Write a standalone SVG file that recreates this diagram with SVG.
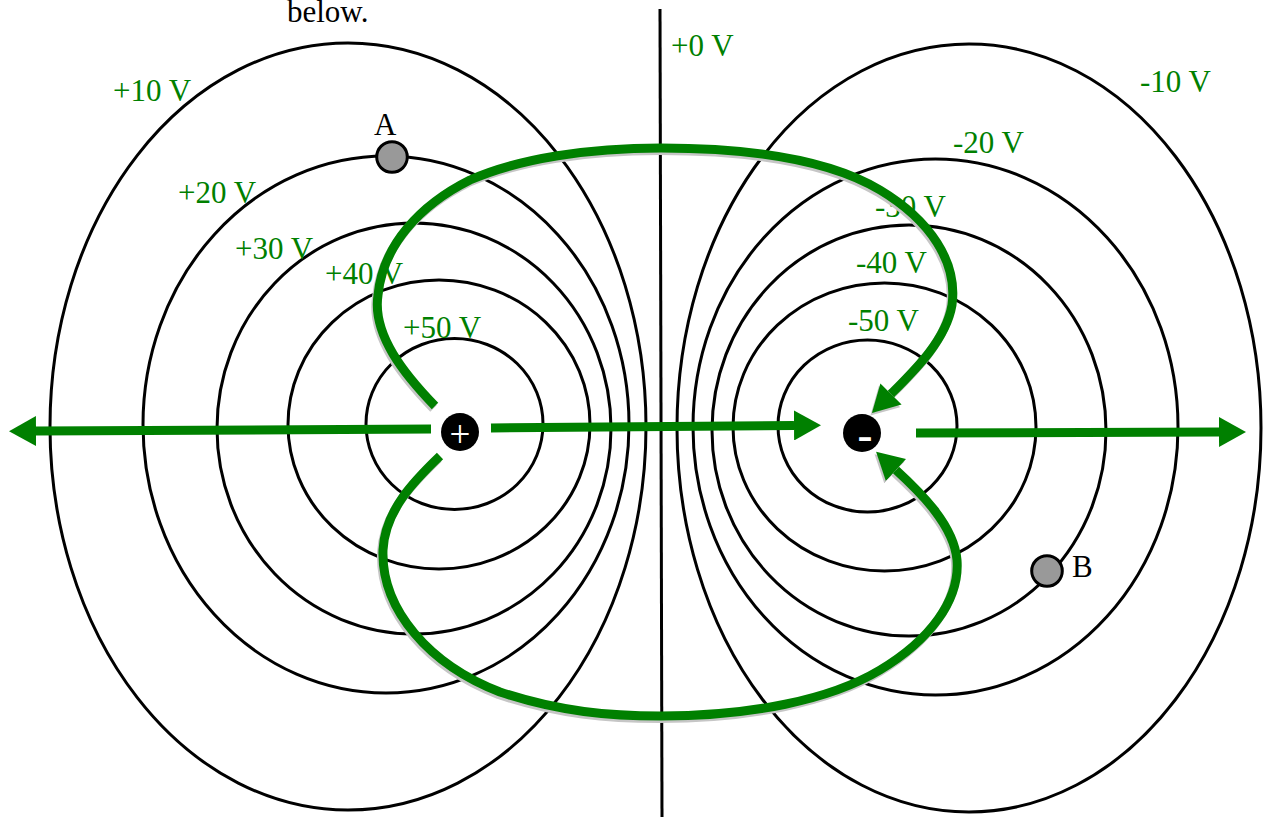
<svg xmlns="http://www.w3.org/2000/svg" width="1263" height="817" viewBox="0 0 1263 817">
<defs>
<marker id="ah" markerUnits="userSpaceOnUse" viewBox="0 0 28 30" markerWidth="28" markerHeight="30" refX="0" refY="15" orient="auto">
<path d="M0,0 L27,15 L0,30 z" fill="#008000"/>
</marker>
<marker id="ahs" markerUnits="userSpaceOnUse" viewBox="0 0 28 30" markerWidth="28" markerHeight="30" refX="0" refY="15" orient="auto">
<path d="M0,0 L27,15 L0,30 z" fill="#c6c6c6"/>
</marker>
</defs>
<style>
.eq{fill:none;stroke:#000;stroke-width:3}
.lbl{font-family:"Liberation Serif","Times New Roman",serif;font-size:31px;fill:#008000}
.txt{font-family:"Liberation Serif","Times New Roman",serif;font-size:31px;fill:#000}
.fl{fill:none;stroke:#008000;stroke-width:9}
.sh{fill:none;stroke:#c6c6c6;stroke-width:9}
.pt{fill:#999;stroke:#000;stroke-width:3}
</style>
<rect width="1263" height="817" fill="#fff"/>
<text class="txt" x="287" y="22">below.</text>

<g id="eq-pos10"><ellipse class="eq" cx="348" cy="426.5" rx="298" ry="383.5"/><text class="lbl" x="113" y="101">+10 V</text></g>
<g id="eq-pos20"><ellipse class="eq" cx="386" cy="424.5" rx="243" ry="268.5"/><text class="lbl" x="178" y="203">+20 V</text></g>
<g id="eq-pos30"><ellipse class="eq" cx="414" cy="428.5" rx="197" ry="205.5"/><text class="lbl" x="235" y="259">+30 V</text></g>
<g id="eq-pos40"><ellipse class="eq" cx="439" cy="424.5" rx="151" ry="144.5"/><text class="lbl" x="325" y="284">+40 V</text></g>
<g id="eq-pos50"><ellipse class="eq" cx="454.5" cy="424" rx="88.5" ry="85.5"/><text class="lbl" x="403" y="338">+50 V</text></g>
<g id="eq-zero"><line class="eq" x1="660" y1="9" x2="662" y2="817"/><text class="lbl" x="671" y="56">+0 V</text></g>
<g id="eq-neg10"><ellipse class="eq" cx="969" cy="428" rx="292" ry="384"/><text class="lbl" x="1140" y="92">-10 V</text></g>
<g id="eq-neg20"><ellipse class="eq" cx="935.5" cy="427" rx="242.5" ry="268"/><text class="lbl" x="953" y="153">-20 V</text></g>
<g id="eq-neg30"><ellipse class="eq" cx="909" cy="430.5" rx="197" ry="205.5"/><text class="lbl" x="875" y="217">-30 V</text></g>
<g id="eq-neg40"><ellipse class="eq" cx="884.5" cy="427" rx="151.5" ry="144"/><text class="lbl" x="856" y="273">-40 V</text></g>
<g id="eq-neg50"><ellipse class="eq" cx="867.5" cy="426" rx="89.5" ry="86"/><text class="lbl" x="848" y="331">-50 V</text></g>

<g id="point-A"><circle class="pt" cx="392" cy="157" r="15.3"/><text class="txt" x="374" y="135">A</text></g>
<g id="point-B"><circle class="pt" cx="1047" cy="571" r="15.3"/><text class="txt" x="1072" y="577">B</text></g>

<g id="connectors">
<g id="shadows" transform="translate(-1.5,2.5)">
<path class="sh" marker-end="url(#ahs)" d="M435,406 C405,375 372,335 378,295 C383,245 420,205 470,180 C520,158 590,148 661,148 C750,148 830,160 880,190 C930,220 958,262 952,305 C946,340 915,370 891,394"/>
<path class="sh" marker-end="url(#ahs)" d="M440,456 C415,480 385,510 383,550 C381,610 430,665 500,692 C560,712 610,716 661,716 C750,716 830,700 880,670 C930,640 960,600 957,560 C954,525 920,492 896,470"/>
</g>
<path class="fl" marker-end="url(#ah)" d="M431,429 L36,431"/>
<path class="fl" marker-end="url(#ah)" d="M491,428 L794,425.5"/>
<path class="fl" marker-end="url(#ah)" d="M916,433 L1219,432"/>
<path class="fl" marker-end="url(#ah)" d="M435,406 C405,375 372,335 378,295 C383,245 420,205 470,180 C520,158 590,148 661,148 C750,148 830,160 880,190 C930,220 958,262 952,305 C946,340 915,370 891,394"/>
<path class="fl" marker-end="url(#ah)" d="M440,456 C415,480 385,510 383,550 C381,610 430,665 500,692 C560,712 610,716 661,716 C750,716 830,700 880,670 C930,640 960,600 957,560 C954,525 920,492 896,470"/>
</g>

<g id="charge-pos"><circle cx="460" cy="432" r="19" fill="#000"/><text x="460" y="446.5" text-anchor="middle" font-family="Liberation Serif, serif" font-size="37" fill="#fff">+</text></g>
<g id="charge-neg"><circle cx="862" cy="433" r="19" fill="#000"/><text x="865" y="450.4" text-anchor="middle" font-family="Liberation Serif, serif" font-weight="bold" font-size="45" fill="#fff">-</text></g>
</svg>
